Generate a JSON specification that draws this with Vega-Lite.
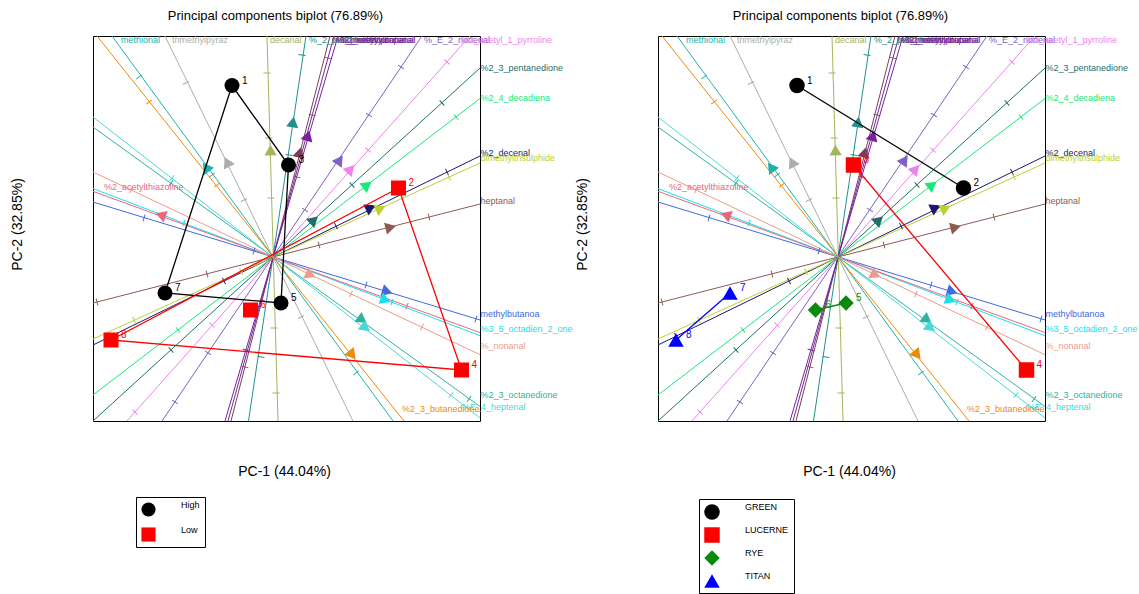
{
  "$schema": "https://vega.github.io/schema/vega-lite/v6.json",
  "padding": {"left": 9, "top": 9, "right": 0, "bottom": 0},
  "bounds": "flush",
  "spacing": 178,
  "resolve": {
    "scale": {"color": "independent", "shape": "independent", "fill": "independent", "stroke": "independent"},
    "legend": {"color": "independent", "shape": "independent", "fill": "independent", "stroke": "independent"}
  },
  "config": {
    "font": "Liberation Sans",
    "view": {"stroke": "#000000", "strokeWidth": 1},
    "axis": {"domain": false, "ticks": false, "labels": false, "grid": false, "titleFontSize": 14, "titleFontWeight": "normal", "titleColor": "#000000"},
    "axisX": {"titleX": 191, "titleY": 50, "titleBaseline": "middle", "titleAlign": "center"},
    "axisY": {"titleX": -76, "titleY": 188, "titleAngle": 270, "titleBaseline": "middle", "titleAlign": "center"},
    "legend": {"title": null, "orient": "none", "strokeColor": "#000000", "padding": 5, "labelFontSize": 9, "labelOffset": 25, "labelBaseline": "bottom", "symbolStrokeWidth": 0, "symbolOpacity": 1}
  },
  "datasets": {
    "vars": [
      {"v": "methional", "ex": -1.61, "ey": 2.21, "sx": 1.2, "sy": -1.64, "tx": -0.67, "ty": 0.9, "lx": -1.52, "ly": 2.17},
      {"v": "trimethylpyraz", "ex": -1.08, "ey": 2.21, "sx": 0.8, "sy": -1.64, "tx": -0.46, "ty": 0.95, "lx": -1.01, "ly": 2.17},
      {"v": "decanal", "ex": -0.06, "ey": 2.21, "sx": 0.05, "sy": -1.64, "tx": -0.025, "ty": 1.07, "lx": -0.03, "ly": 2.17},
      {"v": "%_2_pentylfuran", "ex": 0.33, "ey": 2.21, "sx": -0.245, "sy": -1.64, "tx": 0.2, "ty": 1.35, "lx": 0.36, "ly": 2.17},
      {"v": "%3_methylbutanal", "ex": 0.57, "ey": 2.21, "sx": -0.42, "sy": -1.64, "tx": 0.267, "ty": 1.047, "lx": 0.59, "ly": 2.17},
      {"v": "%2_methylpropanal", "ex": 0.61, "ey": 2.21, "sx": -0.45, "sy": -1.64, "tx": null, "ty": null, "lx": 0.63, "ly": 2.17},
      {"v": "%2_methylbutanal", "ex": 0.65, "ey": 2.21, "sx": -0.48, "sy": -1.64, "tx": 0.35, "ty": 1.213, "lx": 0.67, "ly": 2.17},
      {"v": "%_E_2_nonenal", "ex": 1.49, "ey": 2.21, "sx": -1.11, "sy": -1.64, "tx": 0.667, "ty": 0.97, "lx": 1.51, "ly": 2.17},
      {"v": "%2_acetyl_1_pyrroline", "ex": 1.97, "ey": 2.21, "sx": -1.46, "sy": -1.64, "tx": 0.777, "ty": 0.88, "lx": 1.88, "ly": 2.17},
      {"v": "%2_3_pentanedione", "ex": 2.07, "ey": 1.89, "sx": -1.8, "sy": -1.64, "tx": 0.41, "ty": 0.37, "lx": 2.075, "ly": 1.89},
      {"v": "%2_4_decadiena", "ex": 2.07, "ey": 1.585, "sx": -1.8, "sy": -1.38, "tx": 0.943, "ty": 0.72, "lx": 2.075, "ly": 1.59},
      {"v": "%2_decenal", "ex": 2.07, "ey": 1.01, "sx": -1.8, "sy": -0.88, "tx": 0.977, "ty": 0.493, "lx": 2.075, "ly": 1.04},
      {"v": "dimethyltrisulphide", "ex": 2.07, "ey": 0.94, "sx": -1.8, "sy": -0.82, "tx": 1.077, "ty": 0.487, "lx": 2.075, "ly": 0.99},
      {"v": "heptanal", "ex": 2.07, "ey": 0.53, "sx": -1.8, "sy": -0.46, "tx": 1.177, "ty": 0.297, "lx": 2.075, "ly": 0.56},
      {"v": "methylbutanoa", "ex": 2.07, "ey": -0.63, "sx": -1.8, "sy": 0.55, "tx": 1.143, "ty": -0.347, "lx": 2.075, "ly": -0.57},
      {"v": "%3_5_octadien_2_one", "ex": 2.07, "ey": -0.787, "sx": -1.8, "sy": 0.684, "tx": 1.127, "ty": -0.43, "lx": 2.075, "ly": -0.72},
      {"v": "%2_acetylthiazoline", "ex": -1.8, "ey": 0.657, "sx": 2.07, "sy": -0.756, "tx": -1.123, "ty": 0.42, "lx": -1.69, "ly": 0.7},
      {"v": "%_nonanal", "ex": 2.07, "ey": -0.977, "sx": -1.8, "sy": 0.85, "tx": 0.377, "ty": -0.18, "lx": 2.075, "ly": -0.89},
      {"v": "%2_3_octanedione", "ex": 2.07, "ey": -1.495, "sx": -1.8, "sy": 1.3, "tx": 0.893, "ty": -0.63, "lx": 2.075, "ly": -1.38},
      {"v": "%E_4_heptenal", "ex": 2.07, "ey": -1.61, "sx": -1.8, "sy": 1.4, "tx": 0.927, "ty": -0.71, "lx": 1.89, "ly": -1.5},
      {"v": "%2_3_butanedione", "ex": 1.31, "ey": -1.64, "sx": -1.76, "sy": 2.21, "tx": 0.793, "ty": -0.98, "lx": 1.29, "ly": -1.52}
    ],
    "ticks": [
      {"v": "methional", "x": -1.34, "y": 1.8}, {"v": "methional", "x": -0.61, "y": 0.82}, {"v": "methional", "x": 0.83, "y": -1.16},
      {"v": "%2_3_butanedione", "x": -1.24, "y": 1.55}, {"v": "%2_3_butanedione", "x": -0.56, "y": 0.72},
      {"v": "trimethylpyraz", "x": -0.87, "y": 1.74}, {"v": "trimethylpyraz", "x": -0.29, "y": 0.57}, {"v": "trimethylpyraz", "x": 0.28, "y": -0.6},
      {"v": "decanal", "x": -0.06, "y": 1.84}, {"v": "decanal", "x": -0.04, "y": 1.19}, {"v": "decanal", "x": -0.02, "y": 0.59}, {"v": "decanal", "x": 0.01, "y": -0.71}, {"v": "decanal", "x": 0.03, "y": -1.36},
      {"v": "%_2_pentylfuran", "x": 0.29, "y": 2.02}, {"v": "%_2_pentylfuran", "x": 0.16, "y": 1.02}, {"v": "%_2_pentylfuran", "x": -0.12, "y": -1.0},
      {"v": "%3_methylbutanal", "x": 0.55, "y": 1.99}, {"v": "%3_methylbutanal", "x": 0.39, "y": 1.42}, {"v": "%3_methylbutanal", "x": 0.24, "y": 0.8}, {"v": "%3_methylbutanal", "x": -0.28, "y": -1.1},
      {"v": "%2_methylbutanal", "x": -0.27, "y": -0.93},
      {"v": "%_E_2_nonenal", "x": 1.28, "y": 1.9}, {"v": "%_E_2_nonenal", "x": 0.96, "y": 1.42}, {"v": "%_E_2_nonenal", "x": 0.32, "y": 0.47}, {"v": "%_E_2_nonenal", "x": -0.65, "y": -0.96}, {"v": "%_E_2_nonenal", "x": -0.98, "y": -1.45},
      {"v": "%2_acetyl_1_pyrroline", "x": 1.74, "y": 1.95}, {"v": "%2_acetyl_1_pyrroline", "x": 0.95, "y": 1.07}, {"v": "%2_acetyl_1_pyrroline", "x": -0.61, "y": -0.68}, {"v": "%2_acetyl_1_pyrroline", "x": -1.38, "y": -1.55},
      {"v": "%2_3_pentanedione", "x": 1.69, "y": 1.54}, {"v": "%2_3_pentanedione", "x": 0.79, "y": 0.72}, {"v": "%2_3_pentanedione", "x": -1.02, "y": -0.93},
      {"v": "%2_4_decadiena", "x": 1.83, "y": 1.4}, {"v": "%2_4_decadiena", "x": -0.95, "y": -0.73},
      {"v": "%2_decenal", "x": 1.74, "y": 0.85}, {"v": "%2_decenal", "x": 0.63, "y": 0.31}, {"v": "%2_decenal", "x": -0.49, "y": -0.24}, {"v": "%2_decenal", "x": -1.62, "y": -0.79},
      {"v": "dimethyltrisulphide", "x": 1.76, "y": 0.8}, {"v": "dimethyltrisulphide", "x": -0.32, "y": -0.145}, {"v": "dimethyltrisulphide", "x": -1.39, "y": -0.63},
      {"v": "heptanal", "x": 1.56, "y": 0.4}, {"v": "heptanal", "x": 0.46, "y": 0.12}, {"v": "heptanal", "x": -0.66, "y": -0.17}, {"v": "heptanal", "x": -1.76, "y": -0.45},
      {"v": "methylbutanoa", "x": -1.29, "y": 0.39}, {"v": "methylbutanoa", "x": -0.19, "y": 0.06}, {"v": "methylbutanoa", "x": 0.93, "y": -0.28}, {"v": "methylbutanoa", "x": 2.03, "y": -0.62},
      {"v": "%3_5_octadien_2_one", "x": -0.89, "y": 0.34}, {"v": "%3_5_octadien_2_one", "x": 1.19, "y": -0.45},
      {"v": "%2_acetylthiazoline", "x": 1.34, "y": -0.49},
      {"v": "%_nonanal", "x": -1.42, "y": 0.67}, {"v": "%_nonanal", "x": 0.78, "y": -0.37}, {"v": "%_nonanal", "x": 1.49, "y": -0.7},
      {"v": "%2_3_octanedione", "x": -1.02, "y": 0.74}, {"v": "%2_3_octanedione", "x": 1.96, "y": -1.42},
      {"v": "%E_4_heptenal", "x": 1.78, "y": -1.38}, {"v": "%E_4_heptenal", "x": -1.01, "y": 0.79}
    ],
    "samples": [
      {"id": 1, "x": -0.41, "y": 1.715, "grpL": "High", "grpR": "GREEN"},
      {"id": 2, "x": 1.255, "y": 0.69, "grpL": "Low", "grpR": "GREEN"},
      {"id": 3, "x": 0.155, "y": 0.92, "grpL": "High", "grpR": "LUCERNE"},
      {"id": 4, "x": 1.885, "y": -1.13, "grpL": "Low", "grpR": "LUCERNE"},
      {"id": 5, "x": 0.08, "y": -0.46, "grpL": "High", "grpR": "RYE"},
      {"id": 6, "x": -0.225, "y": -0.53, "grpL": "Low", "grpR": "RYE"},
      {"id": 7, "x": -1.08, "y": -0.36, "grpL": "High", "grpR": "TITAN"},
      {"id": 8, "x": -1.62, "y": -0.83, "grpL": "Low", "grpR": "TITAN"}
    ],
    "hullL": [
      {"g": "High", "k": 1, "x": -0.41, "y": 1.715},
      {"g": "High", "k": 2, "x": 0.155, "y": 0.92},
      {"g": "High", "k": 3, "x": 0.08, "y": -0.46},
      {"g": "High", "k": 4, "x": -1.08, "y": -0.36},
      {"g": "High", "k": 5, "x": -0.41, "y": 1.715},
      {"g": "Low", "k": 1, "x": 1.255, "y": 0.69},
      {"g": "Low", "k": 2, "x": 1.885, "y": -1.13},
      {"g": "Low", "k": 3, "x": -1.62, "y": -0.83},
      {"g": "Low", "k": 4, "x": 1.255, "y": 0.69}
    ]
  },
  "hconcat": [
    {
      "width": 387,
      "height": 385,
      "title": {"text": "Principal components biplot (76.89%)", "fontSize": 13, "fontWeight": "normal", "color": "#000000", "dx": -11, "offset": 3, "frame": "group", "baseline": "alphabetic"},
      "resolve": {"scale": {"color": "independent", "shape": "independent"}},
      "layer": [
        {
          "data": {"name": "vars"},
          "layer": [
            {
              "mark": {"type": "rule", "strokeWidth": 1, "clip": true},
              "encoding": {
                "x": {"field": "ex", "type": "quantitative", "scale": {"domain": [-1.8, 2.07], "nice": false, "zero": false}, "axis": {"title": "PC-1 (44.04%)"}},
                "y": {"field": "ey", "type": "quantitative", "scale": {"domain": [-1.64, 2.21], "nice": false, "zero": false}, "axis": {"title": "PC-2  (32.85%)"}},
                "x2": {"field": "sx"},
                "y2": {"field": "sy"},
                "color": {"field": "v", "type": "nominal", "legend": null,
                  "scale": {"domain": ["methional", "trimethylpyraz", "decanal", "%_2_pentylfuran", "%3_methylbutanal", "%2_methylpropanal", "%2_methylbutanal", "%_E_2_nonenal", "%2_acetyl_1_pyrroline", "%2_3_pentanedione", "%2_4_decadiena", "%2_decenal", "dimethyltrisulphide", "heptanal", "methylbutanoa", "%3_5_octadien_2_one", "%2_acetylthiazoline", "%_nonanal", "%2_3_octanedione", "%E_4_heptenal", "%2_3_butanedione"],
                            "range": ["#20B2AA", "#A9AFA8", "#A4B55C", "#23908C", "#7E3D56", "#6B2A9A", "#7B1FA2", "#7F60C4", "#EE82EE", "#1F6F68", "#18E878", "#191970", "#BCD030", "#8E5A52", "#4169E1", "#14E0EE", "#E8677E", "#EE9A8C", "#2DB3A0", "#48D8D8", "#EE8A0A"]}}
              }
            },
            {
              "data": {"name": "ticks"},
              "transform": [
                {"lookup": "v", "from": {"data": {"name": "vars"}, "key": "v", "fields": ["ex", "ey"]}},
                {"calculate": "atan2(datum.ex, datum.ey) * 180 / PI", "as": "ang"}
              ],
              "mark": {"type": "point", "shape": "stroke", "filled": false, "opacity": 1, "size": 49, "strokeWidth": 1},
              "encoding": {
                "x": {"field": "x", "type": "quantitative", "axis": {"title": "PC-1 (44.04%)"}},
                "y": {"field": "y", "type": "quantitative", "axis": {"title": "PC-2  (32.85%)"}},
                "angle": {"field": "ang", "type": "quantitative", "scale": null},
                "color": {"field": "v", "type": "nominal", "legend": null}
              }
            },
            {
              "transform": [{"filter": "isValid(datum.tx)"}, {"calculate": "atan2(datum.ex, datum.ey) * 180 / PI", "as": "ang"}],
              "mark": {"type": "point", "shape": "triangle-up", "filled": true, "opacity": 1, "size": 150},
              "encoding": {
                "x": {"field": "tx", "type": "quantitative", "axis": {"title": "PC-1 (44.04%)"}},
                "y": {"field": "ty", "type": "quantitative", "axis": {"title": "PC-2  (32.85%)"}},
                "angle": {"field": "ang", "type": "quantitative", "scale": null},
                "color": {"field": "v", "type": "nominal", "legend": null}
              }
            },
            {
              "mark": {"type": "text", "align": "left", "baseline": "middle", "fontSize": 9},
              "encoding": {
                "x": {"field": "lx", "type": "quantitative", "axis": {"title": "PC-1 (44.04%)"}},
                "y": {"field": "ly", "type": "quantitative", "axis": {"title": "PC-2  (32.85%)"}},
                "text": {"field": "v"},
                "color": {"field": "v", "type": "nominal", "legend": null}
              }
            }
          ]
        },
        {
          "data": {"name": "samples"},
          "layer": [
            {
              "data": {"name": "hullL"},
              "mark": {"type": "line", "strokeWidth": 1.3},
              "encoding": {
                "x": {"field": "x", "type": "quantitative", "axis": {"title": "PC-1 (44.04%)"}},
                "y": {"field": "y", "type": "quantitative", "axis": {"title": "PC-2  (32.85%)"}},
                "order": {"field": "k"},
                "stroke": {"field": "g", "type": "nominal", "legend": null, "scale": {"domain": ["High", "Low"], "range": ["#000000", "#FF0000"]}}
              }
            },
            {
              "mark": {"type": "point", "filled": true, "opacity": 1, "size": 225},
              "encoding": {
                "x": {"field": "x", "type": "quantitative", "axis": {"title": "PC-1 (44.04%)"}},
                "y": {"field": "y", "type": "quantitative", "axis": {"title": "PC-2  (32.85%)"}},
                "color": {"field": "grpL", "type": "nominal", "scale": {"domain": ["High", "Low"], "range": ["#000000", "#FF0000"]},
                  "legend": {"legendX": 43, "legendY": 461, "symbolSize": 200, "rowPadding": 8}},
                "shape": {"field": "grpL", "type": "nominal", "scale": {"domain": ["High", "Low"], "range": ["circle", "square"]},
                  "legend": {"legendX": 43, "legendY": 461, "symbolSize": 200, "rowPadding": 8}}
              }
            },
            {
              "mark": {"type": "text", "align": "left", "baseline": "middle", "dx": 10, "dy": -5, "fontSize": 10},
              "encoding": {
                "x": {"field": "x", "type": "quantitative", "axis": {"title": "PC-1 (44.04%)"}},
                "y": {"field": "y", "type": "quantitative", "axis": {"title": "PC-2  (32.85%)"}},
                "text": {"field": "id"},
                "fill": {"field": "grpL", "type": "nominal", "legend": null, "scale": {"domain": ["High", "Low"], "range": ["#000000", "#FF0000"]}}
              }
            }
          ]
        }
      ]
    },
    {
      "width": 387,
      "height": 385,
      "title": {"text": "Principal components biplot (76.89%)", "fontSize": 13, "fontWeight": "normal", "color": "#000000", "dx": -11, "offset": 3, "frame": "group", "baseline": "alphabetic"},
      "resolve": {"scale": {"color": "independent", "shape": "independent"}},
      "layer": [
        {
          "data": {"name": "vars"},
          "layer": [
            {
              "mark": {"type": "rule", "strokeWidth": 1, "clip": true},
              "encoding": {
                "x": {"field": "ex", "type": "quantitative", "scale": {"domain": [-1.8, 2.07], "nice": false, "zero": false}, "axis": {"title": "PC-1 (44.04%)"}},
                "y": {"field": "ey", "type": "quantitative", "scale": {"domain": [-1.64, 2.21], "nice": false, "zero": false}, "axis": {"title": "PC-2  (32.85%)"}},
                "x2": {"field": "sx"},
                "y2": {"field": "sy"},
                "color": {"field": "v", "type": "nominal", "legend": null,
                  "scale": {"domain": ["methional", "trimethylpyraz", "decanal", "%_2_pentylfuran", "%3_methylbutanal", "%2_methylpropanal", "%2_methylbutanal", "%_E_2_nonenal", "%2_acetyl_1_pyrroline", "%2_3_pentanedione", "%2_4_decadiena", "%2_decenal", "dimethyltrisulphide", "heptanal", "methylbutanoa", "%3_5_octadien_2_one", "%2_acetylthiazoline", "%_nonanal", "%2_3_octanedione", "%E_4_heptenal", "%2_3_butanedione"],
                            "range": ["#20B2AA", "#A9AFA8", "#A4B55C", "#23908C", "#7E3D56", "#6B2A9A", "#7B1FA2", "#7F60C4", "#EE82EE", "#1F6F68", "#18E878", "#191970", "#BCD030", "#8E5A52", "#4169E1", "#14E0EE", "#E8677E", "#EE9A8C", "#2DB3A0", "#48D8D8", "#EE8A0A"]}}
              }
            },
            {
              "data": {"name": "ticks"},
              "transform": [
                {"lookup": "v", "from": {"data": {"name": "vars"}, "key": "v", "fields": ["ex", "ey"]}},
                {"calculate": "atan2(datum.ex, datum.ey) * 180 / PI", "as": "ang"}
              ],
              "mark": {"type": "point", "shape": "stroke", "filled": false, "opacity": 1, "size": 49, "strokeWidth": 1},
              "encoding": {
                "x": {"field": "x", "type": "quantitative", "axis": {"title": "PC-1 (44.04%)"}},
                "y": {"field": "y", "type": "quantitative", "axis": {"title": "PC-2  (32.85%)"}},
                "angle": {"field": "ang", "type": "quantitative", "scale": null},
                "color": {"field": "v", "type": "nominal", "legend": null}
              }
            },
            {
              "transform": [{"filter": "isValid(datum.tx)"}, {"calculate": "atan2(datum.ex, datum.ey) * 180 / PI", "as": "ang"}],
              "mark": {"type": "point", "shape": "triangle-up", "filled": true, "opacity": 1, "size": 150},
              "encoding": {
                "x": {"field": "tx", "type": "quantitative", "axis": {"title": "PC-1 (44.04%)"}},
                "y": {"field": "ty", "type": "quantitative", "axis": {"title": "PC-2  (32.85%)"}},
                "angle": {"field": "ang", "type": "quantitative", "scale": null},
                "color": {"field": "v", "type": "nominal", "legend": null}
              }
            },
            {
              "mark": {"type": "text", "align": "left", "baseline": "middle", "fontSize": 9},
              "encoding": {
                "x": {"field": "lx", "type": "quantitative", "axis": {"title": "PC-1 (44.04%)"}},
                "y": {"field": "ly", "type": "quantitative", "axis": {"title": "PC-2  (32.85%)"}},
                "text": {"field": "v"},
                "color": {"field": "v", "type": "nominal", "legend": null}
              }
            }
          ]
        },
        {
          "data": {"name": "samples"},
          "layer": [
            {
              "mark": {"type": "line", "strokeWidth": 1.3},
              "encoding": {
                "x": {"field": "x", "type": "quantitative", "axis": {"title": "PC-1 (44.04%)"}},
                "y": {"field": "y", "type": "quantitative", "axis": {"title": "PC-2  (32.85%)"}},
                "order": {"field": "id"},
                "stroke": {"field": "grpR", "type": "nominal", "legend": null, "scale": {"domain": ["GREEN", "LUCERNE", "RYE", "TITAN"], "range": ["#000000", "#FF0000", "#0A8A0A", "#0000FF"]}}
              }
            },
            {
              "mark": {"type": "point", "filled": true, "opacity": 1, "size": 240},
              "encoding": {
                "x": {"field": "x", "type": "quantitative", "axis": {"title": "PC-1 (44.04%)"}},
                "y": {"field": "y", "type": "quantitative", "axis": {"title": "PC-2  (32.85%)"}},
                "color": {"field": "grpR", "type": "nominal", "scale": {"domain": ["GREEN", "LUCERNE", "RYE", "TITAN"], "range": ["#000000", "#FF0000", "#0A8A0A", "#0000FF"]},
                  "legend": {"legendX": 41, "legendY": 463, "symbolSize": 240, "rowPadding": 6}},
                "shape": {"field": "grpR", "type": "nominal", "scale": {"domain": ["GREEN", "LUCERNE", "RYE", "TITAN"], "range": ["circle", "square", "diamond", "triangle-up"]},
                  "legend": {"legendX": 41, "legendY": 463, "symbolSize": 240, "rowPadding": 6}}
              }
            },
            {
              "mark": {"type": "text", "align": "left", "baseline": "middle", "dx": 10, "dy": -5, "fontSize": 10},
              "encoding": {
                "x": {"field": "x", "type": "quantitative", "axis": {"title": "PC-1 (44.04%)"}},
                "y": {"field": "y", "type": "quantitative", "axis": {"title": "PC-2  (32.85%)"}},
                "text": {"field": "id"},
                "fill": {"field": "grpR", "type": "nominal", "legend": null, "scale": {"domain": ["GREEN", "LUCERNE", "RYE", "TITAN"], "range": ["#000000", "#FF0000", "#0A8A0A", "#0000FF"]}}
              }
            }
          ]
        }
      ]
    }
  ]
}
